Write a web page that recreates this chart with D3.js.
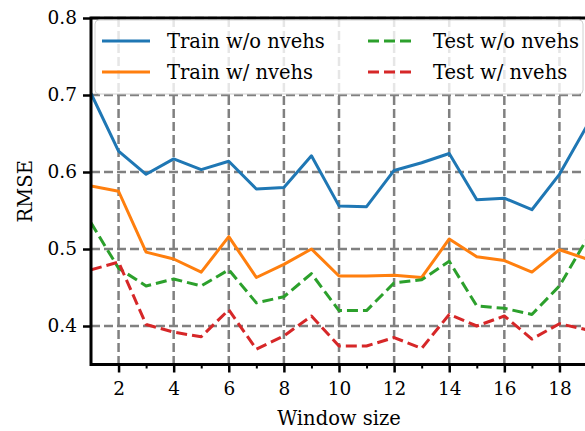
<!DOCTYPE html>
<html>
<head>
<meta charset="utf-8">
<script src="https://cdn.jsdelivr.net/npm/d3@7"></script>
<style>
  body { margin: 0; background: #fff; }
  text { font-family: "DejaVu Serif", serif; fill: #000; }
</style>
</head>
<body>
<div id="chart"></div>
<script>
// window sizes
var windows = d3.range(1, 20);

// RMSE values
var trainWo = [0.702, 0.627, 0.597, 0.617, 0.603, 0.614, 0.578, 0.580, 0.621, 0.556, 0.555, 0.602, 0.612, 0.624, 0.564, 0.566, 0.551, 0.597, 0.660];
var trainW  = [0.582, 0.575, 0.496, 0.487, 0.470, 0.516, 0.463, 0.480, 0.500, 0.465, 0.465, 0.466, 0.463, 0.513, 0.490, 0.485, 0.470, 0.499, 0.487];
var testWo  = [0.534, 0.475, 0.452, 0.461, 0.452, 0.473, 0.430, 0.438, 0.468, 0.420, 0.420, 0.456, 0.460, 0.484, 0.426, 0.423, 0.415, 0.452, 0.513];
var testW   = [0.473, 0.483, 0.402, 0.392, 0.386, 0.421, 0.370, 0.387, 0.413, 0.374, 0.374, 0.385, 0.371, 0.415, 0.400, 0.413, 0.383, 0.403, 0.395];

var seriesNames = ["Train w/o nvehs", "Train w/ nvehs", "Test w/o nvehs", "Test w/ nvehs"];
var seriesColors = ["#1f77b4", "#ff7f0e", "#2ca02c", "#d62728"];
var seriesDash = [null, null, "11,5", "11,5"];
var seriesValues = [trainWo, trainW, testWo, testW];

var yTicks = [0.4, 0.5, 0.6, 0.7, 0.8];
var xTicks = [2, 4, 6, 8, 10, 12, 14, 16, 18];

var svgWidth = 585, svgHeight = 431;
var margin = { top: 18, right: -2, bottom: 66.5, left: 91 };
var chartWidth = svgWidth - margin.left - margin.right;
var chartHeight = svgHeight - margin.top - margin.bottom;

var svg = d3.select("#chart").append("svg")
    .attr("width", svgWidth)
    .attr("height", svgHeight);

var chartGroup = svg.append("g")
    .attr("transform", `translate(${margin.left}, ${margin.top})`);

var xScale = d3.scaleLinear().domain([1, 19]).range([0, chartWidth]);
var yScale = d3.scaleLinear().domain([0.35, 0.8]).range([chartHeight, 0]);

svg.append("defs").append("clipPath").attr("id", "plotclip")
  .append("rect").attr("width", chartWidth).attr("height", chartHeight);

// grid
var grid = chartGroup.append("g").attr("stroke", "#808080").attr("stroke-width", 2.5)
    .attr("stroke-dasharray", "9,4");
grid.selectAll(".hg").data(yTicks).enter().append("line")
    .attr("x1", 0).attr("x2", chartWidth)
    .attr("y1", d => yScale(d)).attr("y2", d => yScale(d));
grid.selectAll(".vg").data(xTicks).enter().append("line")
    .attr("y1", 0).attr("y2", chartHeight)
    .attr("x1", d => xScale(d)).attr("x2", d => xScale(d));

// lines
var line = d3.line().x((d, i) => xScale(windows[i])).y(d => yScale(d));
var lines = chartGroup.append("g").attr("clip-path", "url(#plotclip)");
seriesValues.forEach(function(vals, k) {
    lines.append("path")
        .datum(vals)
        .attr("d", line)
        .attr("fill", "none")
        .attr("stroke", seriesColors[k])
        .attr("stroke-width", 3)
        .attr("stroke-dasharray", seriesDash[k])
        .attr("stroke-linejoin", "round");
});

// axes
var bottomAxis = d3.axisBottom(xScale).tickValues(xTicks).tickSize(8).tickPadding(9).tickFormat(d3.format("d"));
var minorAxis = d3.axisBottom(xScale).tickValues(d3.range(3, 19, 2)).tickSize(4).tickFormat("");
var leftAxis = d3.axisLeft(yScale).tickValues(yTicks).tickSize(8).tickPadding(6).tickFormat(d3.format(".1f"));

var xAxisG = chartGroup.append("g").attr("transform", `translate(0, ${chartHeight})`).call(bottomAxis);
var xMinorG = chartGroup.append("g").attr("transform", `translate(0, ${chartHeight})`).call(minorAxis);
var yAxisG = chartGroup.append("g").call(leftAxis);

[xAxisG, xMinorG, yAxisG].forEach(function(g) {
    g.select(".domain").remove();
    g.selectAll(".tick line").attr("stroke", "#000").attr("stroke-width", 2.5);
    g.selectAll(".tick text").attr("font-size", 18.5).attr("font-family", "DejaVu Serif");
});
xMinorG.selectAll(".tick line").attr("stroke-width", 2);

// spines
chartGroup.append("rect")
    .attr("width", chartWidth).attr("height", chartHeight)
    .attr("fill", "none").attr("stroke", "#000").attr("stroke-width", 3);

// legend
var legend = chartGroup.append("g").attr("transform", "translate(4, 2)");
legend.append("rect")
    .attr("width", 488).attr("height", 74).attr("rx", 4)
    .attr("fill", "#fff").attr("fill-opacity", 0.8)
    .attr("stroke", "#d0d0d0").attr("stroke-width", 1);
var legendItems = legend.selectAll(".li").data(seriesNames).enter().append("g")
    .attr("transform", (d, i) => `translate(${i < 2 ? 7 : 273}, ${i % 2 === 0 ? 21 : 52})`);
legendItems.append("line")
    .attr("x1", 0).attr("x2", 48)
    .attr("stroke", (d, i) => seriesColors[i])
    .attr("stroke-width", 3)
    .attr("stroke-dasharray", (d, i) => seriesDash[i]);
legendItems.append("text")
    .attr("x", 65).attr("dy", "0.35em")
    .attr("font-size", 19.5)
    .text(d => d);

// axis labels
chartGroup.append("text")
    .attr("transform", "rotate(-90)")
    .attr("x", -chartHeight / 2)
    .attr("y", -margin.left + 25)
    .attr("dy", "0.35em")
    .attr("text-anchor", "middle")
    .attr("font-size", 19.5)
    .text("RMSE");

chartGroup.append("text")
    .attr("x", xScale(10))
    .attr("y", chartHeight + 60)
    .attr("text-anchor", "middle")
    .attr("font-size", 19.5)
    .text("Window size");
</script>
</body>
</html>
